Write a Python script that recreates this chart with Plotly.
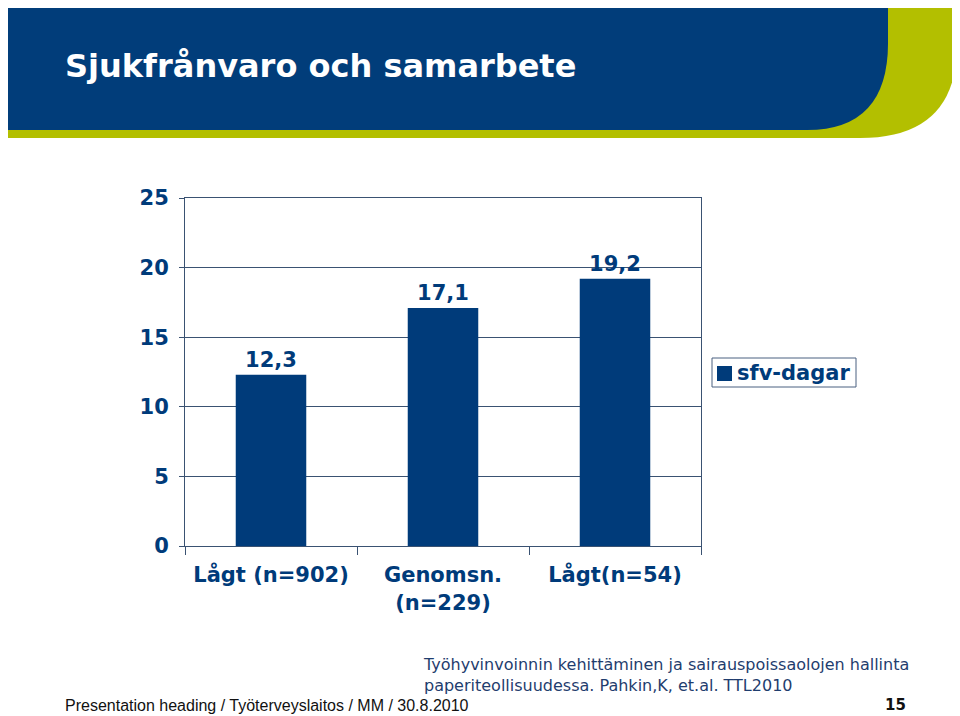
import plotly.graph_objects as go

categories = ["Lågt (n=902)", "Genomsn.<br>(n=229)", "Lågt(n=54)"]
values = [12.3, 17.1, 19.2]
series_name = "sfv-dagar"
y_ticks = [0, 5, 10, 15, 20, 25]

W, H = 960, 716
OFF = 8  # page body margin offset
NAVY = "#003b7a"
GREEN = "#b3bf00"
LINE = "#3a5272"
FONT = "DejaVu Sans"

def px(x):
    return (x - OFF) / W

def py(y):
    return 1 - (y - OFF) / H

fig = go.Figure()
fig.add_trace(go.Bar(
    x=categories, y=values, name=series_name, showlegend=False,
    marker=dict(color=NAVY, line=dict(width=0)),
    texttemplate="%{y:.1f}", textposition="outside",
    textfont=dict(family=FONT, size=21, color=NAVY, weight="bold"),
    cliponaxis=False,
))

green_path = (
    f"M {px(0)},{py(0)} L {px(957)},{py(0)} L {px(957)},{py(45)} "
    f"Q {px(957)},{py(138)} {px(860)},{py(138)} L {px(0)},{py(138)} Z"
)
blue_path = (
    f"M {px(0)},{py(0)} L {px(888)},{py(0)} L {px(888)},{py(43)} "
    f"Q {px(888)},{py(130)} {px(807)},{py(130)} L {px(0)},{py(130)} Z"
)

shapes = [
    dict(type="path", path=green_path, xref="paper", yref="paper",
         fillcolor=GREEN, line=dict(width=0), layer="below"),
    dict(type="path", path=blue_path, xref="paper", yref="paper",
         fillcolor="#013d7a", line=dict(width=0), layer="below"),
    # legend box
    dict(type="rect", x0=px(712), x1=px(856), y0=py(358), y1=py(387),
         xref="paper", yref="paper", fillcolor="white",
         line=dict(color="#4a6080", width=1)),
    # legend swatch
    dict(type="rect", x0=px(717), x1=px(732), y0=py(366), y1=py(381),
         xref="paper", yref="paper", fillcolor=NAVY, line=dict(width=0)),
]

annotations = [
    dict(text="<b>Sjukfrånvaro och samarbete</b>", x=px(63), y=py(66),
         xref="paper", yref="paper", xanchor="left", yanchor="middle",
         showarrow=False, font=dict(family=FONT, size=32, color="white")),
    dict(text=f"<b>{series_name}</b>", x=px(735), y=py(373),
         xref="paper", yref="paper", xanchor="left", yanchor="middle",
         showarrow=False, font=dict(family=FONT, size=21, color=NAVY)),
    dict(text="Työhyvinvoinnin kehittäminen ja sairauspoissaolojen hallinta<br>paperiteollisuudessa. Pahkin,K, et.al. TTL2010",
         x=px(421), y=py(675), xref="paper", yref="paper", xanchor="left", yanchor="middle",
         align="left", showarrow=False,
         font=dict(family=FONT, size=16, color="#1f3d6e")),
    dict(text="Presentation heading / Työterveyslaitos / MM / 30.8.2010",
         x=px(63), y=py(705), xref="paper", yref="paper", xanchor="left", yanchor="middle",
         showarrow=False, font=dict(family="Liberation Sans Narrow, Liberation Sans", size=16, color="#111111")),
    dict(text="<b>15</b>", x=px(908), y=py(705), xref="paper", yref="paper",
         xanchor="right", yanchor="middle", showarrow=False,
         font=dict(family=FONT, size=15, color="#111111")),
]

fig.update_layout(
    width=W, height=H,
    margin=dict(l=0, r=0, t=0, b=0, pad=0),
    paper_bgcolor="white", plot_bgcolor="white",
    separators=", ",
    bargap=0.59,
    shapes=shapes,
    annotations=annotations,
    showlegend=False,
    xaxis=dict(domain=[px(185), px(701)], showgrid=False, automargin=False,
               ticks="outside", tickson="boundaries", ticklen=8,
               ticklabelstandoff=10,
               tickcolor=LINE, showline=True, linecolor=LINE, mirror=True,
               tickfont=dict(family=FONT, size=21, color=NAVY, weight="bold")),
    yaxis=dict(domain=[py(546), py(198)], range=[0, 25], tickvals=y_ticks,
               showgrid=True, gridcolor=LINE, gridwidth=1, automargin=False,
               ticks="outside", ticklen=5, tickcolor=LINE,
               ticklabelstandoff=6,
               showline=True, linecolor=LINE, mirror=True, zeroline=False,
               tickfont=dict(family=FONT, size=21, color=NAVY, weight="bold")),
)

fig.write_html("out.html")
